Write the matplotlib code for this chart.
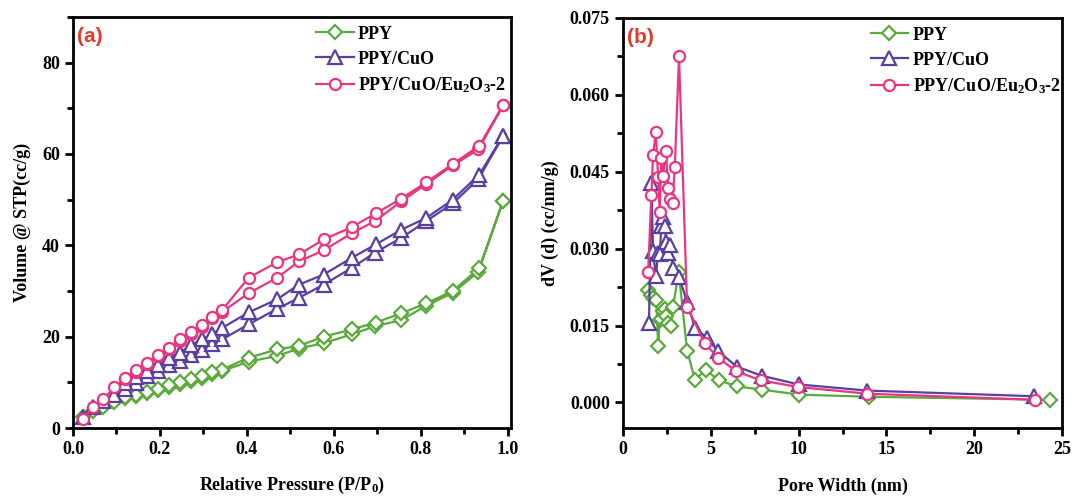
import matplotlib
matplotlib.use("Agg")
import matplotlib.pyplot as plt
from matplotlib.ticker import MultipleLocator, FormatStrFormatter

plt.rcParams['font.family'] = ['Liberation Serif', 'DejaVu Serif']
plt.rcParams['font.weight'] = 'bold'
plt.rcParams['mathtext.fontset'] = 'custom'
plt.rcParams['mathtext.rm'] = 'Liberation Serif:bold'
plt.rcParams['mathtext.it'] = 'Liberation Serif:bold'
plt.rcParams['mathtext.bf'] = 'Liberation Serif:bold'

green = "#5aaa3c"
purple = "#5a3fa0"
pink = "#ea3580"

names = ["PPY", "PPY/CuO", r"PPY/CuO/Eu$_2$O$_3$-2"]

# (a) N2 isotherms: adsorption branch then desorption branch
p_ads = [0.023, 0.046, 0.07, 0.095, 0.12, 0.146, 0.171, 0.196, 0.221, 0.246, 0.271,
         0.296, 0.32, 0.343, 0.404, 0.47, 0.52, 0.577, 0.642, 0.695, 0.755, 0.813,
         0.874, 0.933, 0.99]
p_des = [0.99, 0.935, 0.874, 0.813, 0.755, 0.697, 0.642, 0.577, 0.52, 0.47, 0.404,
         0.343, 0.32, 0.296, 0.271, 0.246, 0.221, 0.196, 0.171, 0.146, 0.12]

ppy_ads = [2.3, 3.8, 4.5, 5.6, 6.5, 7.1, 7.6, 8.4, 9.0, 9.6, 10.3, 11.0, 11.8, 12.5,
           14.5, 15.8, 17.4, 18.6, 20.5, 22.3, 23.6, 26.8, 29.6, 34.2, 49.8]
ppy_des = [49.8, 35.0, 30.0, 27.3, 25.1, 23.1, 21.6, 20.0, 18.0, 17.2, 15.4, 12.8,
           12.2, 11.4, 10.7, 10.0, 9.4, 8.6, 7.9, 7.3, 6.8]
cuo_ads = [2.3, 4.5, 6.0, 7.2, 8.6, 9.8, 11.3, 12.5, 13.7, 14.7, 16.0, 17.0, 18.3,
           19.4, 22.7, 26.1, 28.5, 31.4, 35.1, 38.4, 41.6, 45.3, 49.2, 54.5, 64.0]
cuo_des = [64.0, 55.5, 50.0, 46.0, 43.4, 40.2, 37.3, 33.6, 31.4, 28.2, 25.3, 21.9,
           20.5, 19.4, 18.1, 16.5, 15.4, 13.8, 12.5, 11.1, 9.8]
eu_ads = [2.0, 4.5, 6.3, 8.9, 10.8, 12.3, 14.0, 15.7, 17.2, 19.1, 20.5, 22.2, 24.0,
          25.4, 29.5, 32.9, 36.5, 38.9, 42.7, 45.3, 49.6, 53.4, 57.5, 61.0, 70.7]
eu_des = [70.7, 61.8, 57.8, 53.8, 50.2, 47.0, 44.0, 41.3, 38.0, 36.3, 32.9, 25.8,
          24.3, 22.6, 21.0, 19.4, 17.6, 16.0, 14.3, 12.6, 11.0]

# (b) pore size distribution
w_ppy = [1.43, 1.62, 1.71, 1.9, 2.0, 2.09, 2.19, 2.28, 2.38, 2.47, 2.57, 2.72, 2.85,
         3.17, 3.65, 4.1, 4.7, 5.48, 6.5, 7.9, 10.05, 14.0, 24.3]
dv_ppy = [0.0220, 0.0210, 0.0204, 0.0200, 0.0110, 0.0160, 0.0162, 0.0178, 0.0183,
          0.0168, 0.0155, 0.0150, 0.0186, 0.0255, 0.0101, 0.0044, 0.0063, 0.0043,
          0.0031, 0.0025, 0.0015, 0.0011, 0.0005]
w_cuo = [1.48, 1.62, 1.71, 1.87, 2.0, 2.09, 2.19, 2.28, 2.38, 2.47, 2.57, 2.7, 2.85,
         3.19, 3.65, 4.09, 4.76, 5.42, 6.47, 7.9, 10.0, 13.9, 23.4]
dv_cuo = [0.0155, 0.0429, 0.0295, 0.0246, 0.0292, 0.0290, 0.0344, 0.0361, 0.0344,
          0.0312, 0.0292, 0.0308, 0.0263, 0.0245, 0.0196, 0.0146, 0.0126, 0.0100,
          0.0070, 0.0052, 0.0035, 0.0023, 0.0012]
w_eu = [1.43, 1.62, 1.71, 1.87, 2.0, 2.09, 2.19, 2.28, 2.44, 2.57, 2.70, 2.82, 2.95,
        3.19, 3.65, 4.66, 5.42, 6.43, 7.84, 9.98, 13.88, 23.48]
dv_eu = [0.0254, 0.0405, 0.0482, 0.0528, 0.0439, 0.0372, 0.0477, 0.0442, 0.0490,
         0.0418, 0.0396, 0.0389, 0.0460, 0.0675, 0.0187, 0.0115, 0.0087, 0.0061,
         0.0043, 0.0030, 0.0017, 0.0005]

fig = plt.figure(figsize=(10.72, 4.98), dpi=100)
ax1 = fig.add_axes([73/1072, 1 - 428/498, 438/1072, 411/498])
ax2 = fig.add_axes([623/1072, 1 - 428/498, 439/1072, 410/498])

styles = [(green, "D", 7.5), (purple, "^", 9.5), (pink, "o", 8)]

iso = [(ppy_ads, ppy_des), (cuo_ads, cuo_des), (eu_ads, eu_des)]
for (col, mk, ms), (ya, yd), lab in zip(styles, iso, names):
    ax1.plot(p_ads + p_des, ya + yd, color=col, marker=mk, ms=ms, mfc="white",
             mec=col, mew=1.6, lw=1.6, label=lab)

psd = [(w_ppy, dv_ppy), (w_cuo, dv_cuo), (w_eu, dv_eu)]
for (col, mk, ms), (xw, yv), lab in zip(styles, psd, names):
    ax2.plot(xw, yv, color=col, marker=mk, ms=ms, mfc="white", mec=col, mew=1.6,
             lw=1.6, label=lab)

ax1.set_xlim(0, 1.008)
ax1.set_ylim(0, 90)
ax1.xaxis.set_major_locator(MultipleLocator(0.2))
ax1.xaxis.set_minor_locator(MultipleLocator(0.1))
ax1.yaxis.set_major_locator(MultipleLocator(20))
ax1.yaxis.set_minor_locator(MultipleLocator(10))
ax1.xaxis.set_major_formatter(FormatStrFormatter("%.1f"))
ax1.set_xlabel(r"Relative Pressure (P/P$_0$)", fontsize=13, fontweight="bold", labelpad=12)
ax1.set_ylabel("Volume @ STP(cc/g)", fontsize=13, fontweight="bold", labelpad=8)

ax2.set_xlim(0, 25)
ax2.set_ylim(-0.005, 0.075)
ax2.xaxis.set_major_locator(MultipleLocator(5))
ax2.xaxis.set_minor_locator(MultipleLocator(2.5))
ax2.yaxis.set_major_locator(MultipleLocator(0.015))
ax2.yaxis.set_minor_locator(MultipleLocator(0.0075))
ax2.yaxis.set_major_formatter(FormatStrFormatter("%.3f"))
ax2.set_xlabel("Pore Width (nm)", fontsize=13, fontweight="bold", labelpad=14)
ax2.set_ylabel("dV (d) (cc/nm/g)", fontsize=13, fontweight="bold", labelpad=8)

for ax, tag, lx in [(ax1, "(a)", 0.525), (ax2, "(b)", 0.535)]:
    for s in ax.spines.values():
        s.set_linewidth(2)
    ax.tick_params(which="major", direction="out", length=6, width=2, labelsize=13)
    ax.tick_params(which="minor", direction="out", length=4, width=2)
    for t in ax.get_xticklabels() + ax.get_yticklabels():
        t.set_fontweight("bold")
    ax.text(0.01, 0.975, tag, transform=ax.transAxes, ha="left", va="top",
            color="#e23a2c", fontsize=15, fontweight="bold", family="Liberation Sans")
    ax.legend(loc="upper left", bbox_to_anchor=(lx, 1.01), frameon=False,
              handlelength=2.1, handletextpad=0.25, labelspacing=0.45,
              borderpad=0.2, prop={"weight": "bold", "size": 13})

fig.savefig("out.png", dpi=100)
